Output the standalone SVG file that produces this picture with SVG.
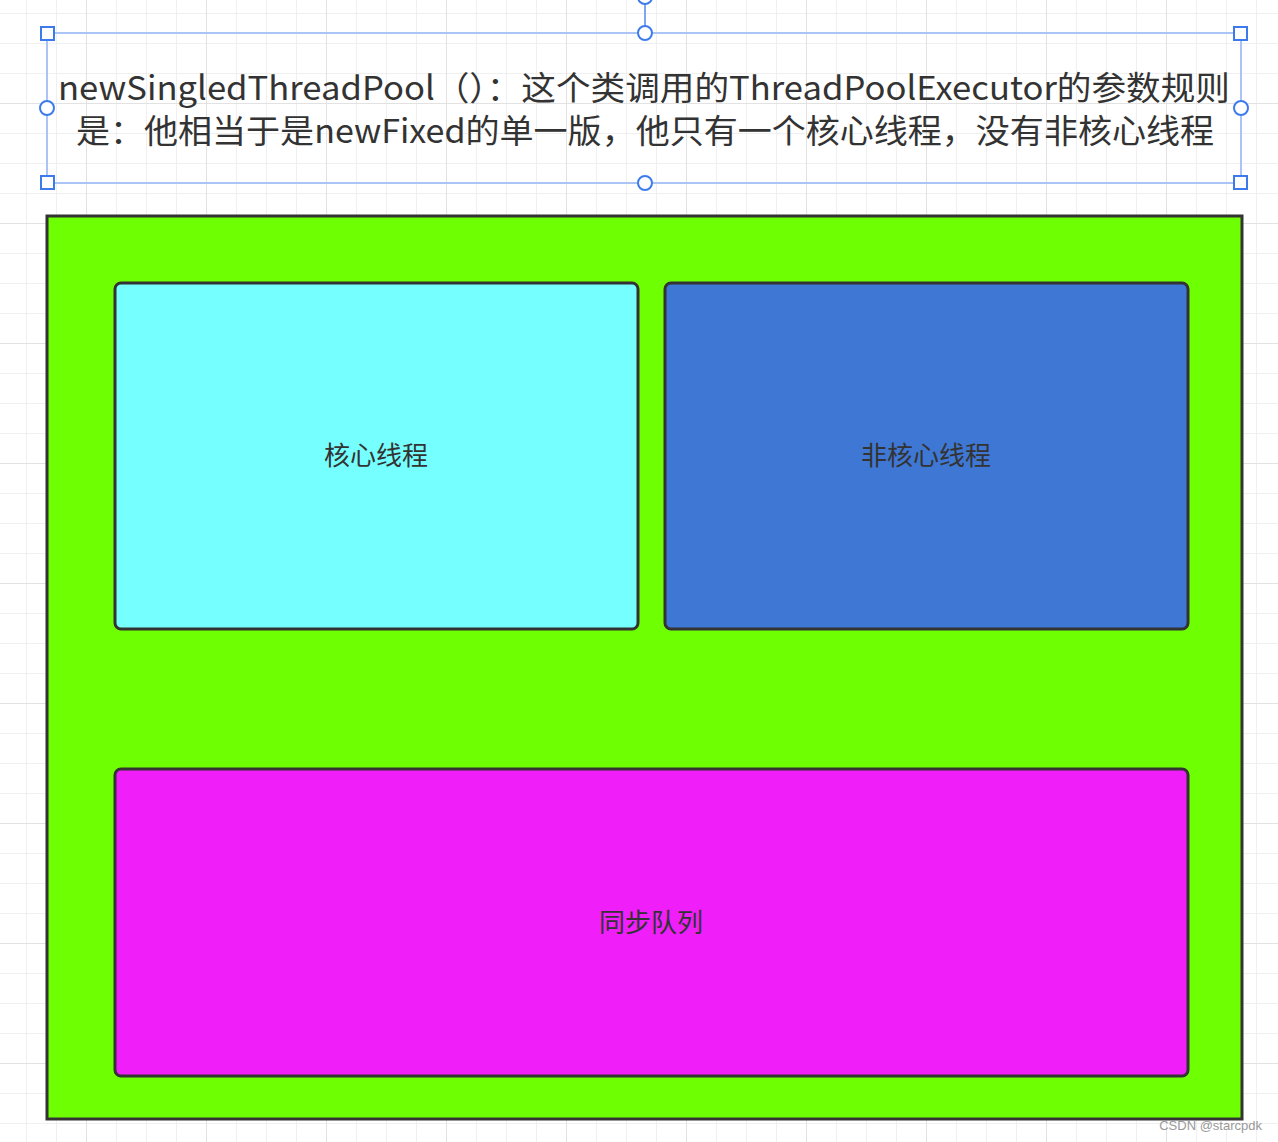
<svg xmlns="http://www.w3.org/2000/svg" width="1278" height="1142" viewBox="0 0 1278 1142">
<defs>
<pattern id="minor" x="26" y="13" width="30" height="30" patternUnits="userSpaceOnUse"><path d="M0 0V30M0 0H30" fill="none" stroke="#ececec" stroke-width="1.5"/></pattern>
<pattern id="major" x="86" y="103" width="120" height="120" patternUnits="userSpaceOnUse"><path d="M0 0V120M0 0H120" fill="none" stroke="#e2e2e2" stroke-width="2"/></pattern>
<style>
.t{font-family:"Microsoft YaHei","Noto Sans CJK SC",sans-serif;fill:#333;text-anchor:middle}
.box{stroke:#333;stroke-width:3}
.h{fill:#fff;stroke:#3d7bed;stroke-width:2}
</style>
</defs>
<rect width="1278" height="1142" fill="#fff"/>
<rect width="1278" height="1142" fill="url(#minor)"/>
<rect width="1278" height="1142" fill="url(#major)"/>
<g id="title">
<rect x="47" y="33" width="1194" height="150" fill="none" stroke="#a9c4f5" stroke-width="2"/>
<line x1="645" y1="0" x2="645" y2="33" stroke="#7fa6f0" stroke-width="2"/>
<circle cx="645" cy="-3" r="7" class="h"/>
<text class="t" font-size="33" x="644" y="100" textLength="1172" lengthAdjust="spacingAndGlyphs">newSingledThreadPool（）：这个类调用的ThreadPoolExecutor的参数规则</text>
<text class="t" font-size="33" x="645" y="143" textLength="1138" lengthAdjust="spacingAndGlyphs">是：他相当于是newFixed的单一版，他只有一个核心线程，没有非核心线程</text>
<rect x="41" y="27" width="13" height="13" class="h"/><rect x="1234" y="27" width="13" height="13" class="h"/>
<rect x="41" y="176" width="13" height="13" class="h"/><rect x="1234" y="176" width="13" height="13" class="h"/>
<circle cx="645" cy="33" r="7" class="h"/><circle cx="645" cy="183" r="7" class="h"/>
<circle cx="47" cy="108" r="7" class="h"/><circle cx="1241" cy="108" r="7" class="h"/>
</g>
<g id="pool"><rect x="47" y="216" width="1195" height="903" fill="#6eff03" class="box"/></g>
<g id="core"><rect x="115" y="283" width="523" height="346" rx="6" fill="#76ffff" class="box"/><text class="t" font-size="26" x="376" y="465">核心线程</text></g>
<g id="noncore"><rect x="665" y="283" width="523" height="346" rx="6" fill="#3f78d4" class="box"/><text class="t" font-size="26" x="926" y="465">非核心线程</text></g>
<g id="queue"><rect x="115" y="769" width="1073" height="307" rx="6" fill="#f01ffa" class="box"/><text class="t" font-size="26" x="651" y="932">同步队列</text></g>
<g id="connectors"></g>
<text x="1262" y="1130" font-family="Liberation Sans,sans-serif" font-size="13" fill="#999" text-anchor="end">CSDN @starcpdk</text>
</svg>
